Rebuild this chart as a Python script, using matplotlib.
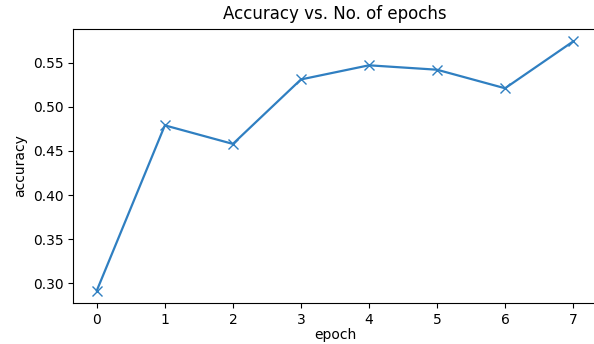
import matplotlib
matplotlib.use("Agg")
import matplotlib.pyplot as plt

# accuracy per epoch
epochs = [0, 1, 2, 3, 4, 5, 6, 7]
accuracy = [0.292, 0.479, 0.458, 0.531, 0.547, 0.542, 0.521, 0.574]

fig = plt.figure(figsize=(5.94, 3.44), dpi=100)
# the original image is cropped on the right, so the axes run past the edge
ax = fig.add_axes([0.1229, 0.1192, 0.882, 0.7965])
ax.plot(epochs, accuracy, "-x", color="#2f7fc1", linewidth=1.6, markersize=7)
ax.set_xlabel("epoch", labelpad=1)
ax.set_ylabel("accuracy")
ax.set_title("Accuracy vs. No. of epochs", pad=7)
# right spine falls outside the cropped picture
ax.spines["right"].set_visible(False)

fig.savefig("out.png", dpi=100)
